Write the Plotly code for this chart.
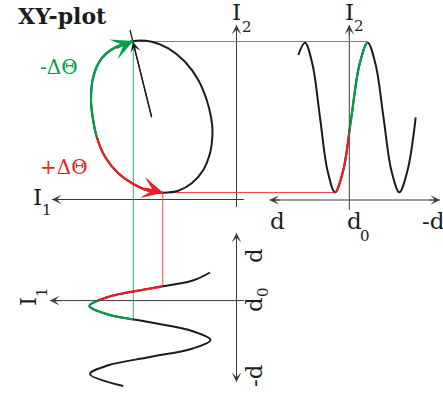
import plotly.graph_objects as go

W, H = 443, 394
INK = "#1c1c1c"
AXIS = "#3a3a3a"
GREEN = "#00a04b"
RED = "#ee1d25"
GREEN_THIN = "#3caa6e"
RED_THIN = "#f0484c"
FONT = "DejaVu Serif"

# I2 signal against displacement (top panel, d grows to the left)
top_d = [298.3, 305.0, 312.5, 320.0, 327.5, 335.0, 343.2, 351.3, 359.5, 367.7,
         375.6, 383.5, 391.4, 399.3, 407.5, 415.7]
top_i2 = [55.0, 42.7, 64.5, 117.5, 170.5, 192.3, 170.5, 117.5, 64.5, 42.7,
          64.5, 117.5, 170.5, 192.3, 170.5, 117.3]

# I1 signal against displacement (bottom panel, d grows upwards)
bot_i1 = [210.0, 192.8, 150.0, 107.2, 89.5, 107.2, 150.0, 192.8, 210.5,
          192.8, 150.0, 107.5, 90.0, 123.3]
bot_d = [272.5, 280.5, 288.5, 297.2, 306.0, 314.2, 322.3, 331.2, 340.0,
         348.5, 357.0, 365.5, 374.0, 386.0]

# XY-plot loop (I1, I2), walked clockwise from its rightmost point back to it
loop_i1 = [212.5, 211.8, 210.0, 203.3, 191.7, 178.3, 163.3, 151.7, 135.0,
           118.3, 105.0, 96.7, 92.8, 91.0, 93.3, 101.7, 116.0, 133.3, 151.7,
           168.3, 185.0, 198.3, 206.7, 211.0, 212.5]
loop_i2 = [130.0, 143.0, 153.3, 170.0, 183.3, 190.7, 192.7, 191.7, 185.0,
           173.3, 156.7, 136.7, 118.0, 100.0, 76.7, 58.3, 47.0, 41.0, 41.7,
           48.3, 61.7, 80.0, 100.0, 117.0, 130.0]

# working point d0 and the two operating extremes
D0_TOP_X = 349.3
D0_BOT_Y = 300.6
PEAK_I2 = 41.5          # I2 maximum  (-ΔΘ side)
TROUGH_I2 = 192.5       # I2 minimum  (+ΔΘ side)
PEAK_D = 367.7
TROUGH_D = 335.0
GREEN_I1 = 133.3
RED_I1 = 162.8
GREEN_BOT_D = 319.3
RED_BOT_D = 286.0

fig = go.Figure()


def seg(xs, ys, color, width, xa="x", ya="y", shape="linear", closed=False):
    extra = dict(fill="toself", fillcolor="rgba(0,0,0,0)") if closed else {}
    fig.add_trace(go.Scatter(x=xs, y=ys, mode="lines", hoverinfo="skip",
                             xaxis=xa, yaxis=ya,
                             line=dict(color=color, width=width, shape=shape,
                                       smoothing=1.0 if shape == "spline" else None),
                             **extra))


def head(x, y, tx, ty, color, width, size, style=3):
    fig.add_annotation(x=x, y=y, ax=tx, ay=ty, xref="x", yref="y", axref="x", ayref="y",
                       text="", showarrow=True, arrowhead=style, arrowsize=size,
                       arrowwidth=width, arrowcolor=color, standoff=0, startstandoff=0)


# axes
seg([52, 244], [199.5, 199.5], AXIS, 1)
seg([236.5, 236.5], [25, 207], AXIS, 1)
seg([269.5, 440], [200, 200], AXIS, 1)
seg([D0_TOP_X, D0_TOP_X], [25, 210], AXIS, 1)
seg([50, 244], [D0_BOT_Y, D0_BOT_Y], AXIS, 1)
seg([236.5, 236.5], [233, 382], AXIS, 1)

# projection lines
seg([GREEN_I1, PEAK_D], [PEAK_I2, PEAK_I2], GREEN_THIN, 1)
seg([GREEN_I1, GREEN_I1], [PEAK_I2, GREEN_BOT_D], GREEN_THIN, 1)
seg([RED_I1, TROUGH_D], [TROUGH_I2, TROUGH_I2], RED_THIN, 1)
seg([RED_I1, RED_I1], [TROUGH_I2, RED_BOT_D], RED_THIN, 1)

# phase arrow inside the loop
seg([151.7, 130.0], [117.3, 30.0], INK, 1.3)

# the three curves in black
seg(top_d, top_i2, INK, 2, shape="spline")
seg(bot_i1, bot_d, INK, 2, shape="spline")
seg(loop_i1, loop_i2, INK, 2, shape="spline", closed=True)

# coloured stretches: each curve is redrawn inside a window that clips it
windows = [
    (top_d, top_i2, (TROUGH_D, D0_TOP_X), (30, 205), RED, False),
    (top_d, top_i2, (D0_TOP_X, PEAK_D), (30, 205), GREEN, False),
    (bot_i1, bot_d, (80, RED_I1), (265, D0_BOT_Y), RED, False),
    (bot_i1, bot_d, (80, GREEN_I1), (D0_BOT_Y, 330), GREEN, False),
    (loop_i1, loop_i2, (80, GREEN_I1), (30, 136.7), GREEN, True),
    (loop_i1, loop_i2, (80, 163.3), (136.7, 200), RED, True),
]
for n, (xs, ys, (x0, x1), (y0, y1), color, closed) in enumerate(windows, start=2):
    fig.update_layout(**{
        f"xaxis{n}": dict(domain=[x0 / W, x1 / W], range=[x0, x1], visible=False,
                          anchor=f"y{n}", fixedrange=True),
        f"yaxis{n}": dict(domain=[1 - y1 / H, 1 - y0 / H], range=[y1, y0], visible=False,
                          anchor=f"x{n}", fixedrange=True),
    })
    seg(xs, ys, color, 2.2, xa=f"x{n}", ya=f"y{n}", shape="spline", closed=closed)

# arrow heads
head(52, 199.5, 64, 199.5, AXIS, 1, 1.6)
head(236.5, 25, 236.5, 37, AXIS, 1, 1.6)
head(269.5, 200, 281.5, 200, AXIS, 1, 1.6)
head(440, 200, 428, 200, AXIS, 1, 1.6)
head(D0_TOP_X, 25, D0_TOP_X, 37, AXIS, 1, 1.6)
head(50, D0_BOT_Y, 62, D0_BOT_Y, AXIS, 1, 1.6)
head(236.5, 233, 236.5, 245, AXIS, 1, 1.6)
head(236.5, 382, 236.5, 370, AXIS, 1, 1.6)
head(133.0, 42.0, 151.7, 117.3, INK, 1.3, 1.3)
head(133.3, 41.0, 114.9, 48.8, GREEN, 2, 1.8)
head(163.3, 192.7, 143.9, 188.0, RED, 2, 1.8)


def label(text, x, y, size, color=INK, angle=0, bold=False):
    fig.add_annotation(x=x, y=y, xref="x", yref="y", text=text, showarrow=False,
                       textangle=angle, font=dict(family=FONT, size=size, color=color,
                                                  weight="bold" if bold else "normal"))


label("XY-plot", 62.5, 16, 22, bold=True)
label("-ΔΘ", 59, 67, 20, GREEN)
label("+ΔΘ", 64, 167, 20, RED)
label("I", 37.5, 197, 23)
label("1", 47, 210, 15)
label("I", 236.5, 11.5, 23)
label("2", 246.7, 26.5, 15)
label("I", 349.5, 12, 23)
label("2", 358.5, 26, 15)
label("d", 277.5, 221, 23)
label("d", 354, 221, 23)
label("0", 365, 236, 15)
label("-d", 433, 221, 23)
label("d", 254, 256, 23, angle=-90)
label("d", 254, 305, 23, angle=-90)
label("0", 263, 292, 15, angle=-90)
label("-d", 254, 376, 23, angle=-90)
label("I", 28, 302, 23, angle=-90)
label("1", 42, 292, 15, angle=-90)

fig.update_layout(
    width=W, height=H, autosize=False,
    margin=dict(l=0, r=0, t=0, b=0, pad=0),
    paper_bgcolor="white", plot_bgcolor="rgba(0,0,0,0)",
    showlegend=False,
    xaxis=dict(range=[0, W], visible=False, fixedrange=True, domain=[0, 1]),
    yaxis=dict(range=[H, 0], visible=False, fixedrange=True, domain=[0, 1]),
)

fig.write_html("out.html", config={"displayModeBar": False})
